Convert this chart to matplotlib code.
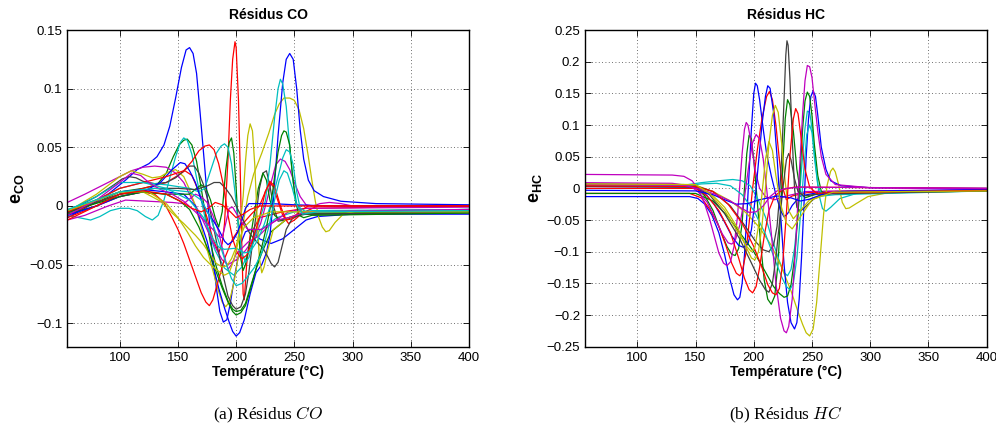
import matplotlib
matplotlib.use("Agg")
import matplotlib.pyplot as plt
from matplotlib.ticker import FuncFormatter

# ---------------- data: CO residuals (T in °C, e_CO) ----------------
co_blue1 = [(55,-0.010),(70,-0.002),(90,0.010),(105,0.022),(115,0.031),(125,0.036),(132,0.042),(138,0.052),(143,0.068),(148,0.092),(153,0.118),(157,0.133),(160,0.135),(163,0.130),(166,0.113),(169,0.080),(172,0.045),(175,0.010),(179,-0.035),(183,-0.070),(186,-0.090),(189,-0.099),(192,-0.097),(195,-0.083),(199,-0.058),(204,-0.032),(208,-0.022),(213,-0.020),(220,-0.028),(230,-0.032),(240,-0.028),(250,-0.020),(260,-0.012),(270,-0.009),(300,-0.007),(400,-0.007)]
co_blue2 = [(55,-0.005),(80,0.005),(100,0.012),(120,0.014),(140,0.012),(155,0.010),(165,0.000),(175,-0.030),(185,-0.070),(190,-0.087),(194,-0.099),(197,-0.107),(200,-0.111),(203,-0.108),(207,-0.097),(212,-0.075),(217,-0.057),(222,-0.050),(226,-0.040),(229,-0.025),(232,0.005),(236,0.060),(240,0.105),(243,0.125),(246,0.130),(249,0.125),(252,0.100),(255,0.065),(258,0.040),(262,0.022),(267,0.013),(275,0.008),(290,0.004),(320,0.002),(400,0.001)]
co_blue3 = [(55,-0.008),(80,0.000),(100,0.008),(120,0.012),(135,0.020),(145,0.031),(152,0.037),(156,0.036),(160,0.030),(165,0.020),(170,0.005),(175,-0.005),(180,-0.012),(185,-0.020),(190,-0.030),(193,-0.033),(197,-0.030),(201,-0.023),(205,-0.012),(208,-0.002),(211,0.002),(230,0.002),(250,0.001),(280,0.000),(400,0.000)]
co_red1 = [(55,-0.008),(80,0.003),(100,0.010),(120,0.015),(140,0.020),(150,0.026),(156,0.030),(162,0.026),(168,0.012),(175,-0.010),(180,-0.028),(185,-0.040),(188,-0.032),(190,-0.015),(193,0.040),(195,0.090),(197,0.125),(199,0.140),(200,0.135),(202,0.090),(203.5,0.030),(205,-0.040),(206,-0.075),(207,-0.080),(209,-0.050),(212,-0.025),(220,-0.010),(240,-0.005),(260,-0.002),(400,0.000)]
co_red2 = [(55,-0.010),(80,0.000),(100,0.008),(120,0.012),(130,0.010),(138,0.003),(145,-0.010),(150,-0.020),(155,-0.032),(160,-0.046),(165,-0.060),(170,-0.074),(174,-0.082),(177,-0.085),(180,-0.080),(184,-0.066),(190,-0.045),(197,-0.028),(205,-0.016),(213,-0.007),(220,0.000),(225,0.012),(229,0.020),(232,0.016),(236,0.004),(240,-0.008),(245,-0.015),(250,-0.012),(257,-0.006),(270,0.000),(400,0.000)]
co_red3 = [(55,-0.005),(80,0.005),(100,0.015),(120,0.020),(140,0.025),(155,0.030),(162,0.038),(168,0.047),(173,0.051),(177,0.052),(181,0.048),(185,0.036),(189,0.018),(193,-0.008),(197,-0.028),(201,-0.040),(205,-0.045),(209,-0.042),(214,-0.030),(220,-0.010),(225,0.012),(229,0.021),(233,0.017),(238,0.000),(243,-0.012),(248,-0.011),(255,-0.004),(262,0.000),(400,0.000)]
co_red4 = [(55,-0.012),(80,0.000),(100,0.010),(120,0.013),(140,0.010),(152,0.004),(162,-0.002),(170,-0.005),(176,-0.002),(182,0.003),(188,0.001),(195,-0.005),(200,-0.010),(206,-0.007),(212,-0.003),(220,0.000),(250,0.000),(400,0.000)]
co_cyan1 = [(55,-0.008),(65,-0.010),(75,-0.012),(83,-0.009),(92,-0.004),(100,-0.002),(108,-0.002),(115,-0.004),(122,-0.009),(128,-0.012),(133,-0.008),(138,0.005),(143,0.024),(148,0.042),(152,0.054),(155,0.058),(158,0.056),(162,0.044),(166,0.024),(170,0.005),(175,-0.018),(182,-0.038),(190,-0.053),(198,-0.059),(205,-0.052),(212,-0.037),(220,-0.021),(235,-0.010),(250,-0.005),(400,-0.003)]
co_cyan2 = [(55,-0.005),(80,0.005),(100,0.015),(120,0.020),(140,0.018),(160,0.015),(168,0.012),(173,0.015),(178,0.030),(183,0.045),(187,0.051),(190,0.053),(193,0.050),(196,0.036),(199,0.012),(202,-0.018),(205,-0.040),(208,-0.048),(211,-0.044),(215,-0.030),(220,-0.012),(225,0.004),(229,0.035),(233,0.075),(236,0.100),(238,0.108),(240,0.104),(243,0.085),(246,0.050),(249,0.020),(252,0.002),(256,-0.005),(265,-0.004),(400,-0.003)]
co_cyan3 = [(55,-0.004),(80,0.008),(100,0.020),(120,0.020),(140,0.015),(160,0.005),(172,-0.010),(180,-0.028),(185,-0.035),(190,-0.037),(200,-0.036),(207,-0.040),(212,-0.039),(218,-0.030),(224,-0.016),(230,0.002),(236,0.025),(240,0.041),(243,0.048),(246,0.046),(249,0.035),(252,0.012),(255,-0.002),(260,-0.005),(400,-0.003)]
co_cyan4 = [(55,-0.003),(100,0.012),(130,0.015),(160,0.012),(170,0.005),(178,-0.010),(185,-0.030),(191,-0.048),(196,-0.062),(200,-0.068),(205,-0.066),(210,-0.060),(216,-0.052),(222,-0.040),(228,-0.018),(233,0.005),(237,0.022),(241,0.030),(244,0.028),(248,0.016),(252,0.001),(257,-0.007),(270,-0.005),(400,-0.004)]
co_mag1 = [(55,0.003),(70,0.010),(90,0.020),(110,0.030),(120,0.033),(130,0.034),(140,0.033),(148,0.028),(155,0.020),(162,0.006),(168,-0.005),(175,-0.020),(182,-0.035),(188,-0.046),(193,-0.050),(200,-0.046),(208,-0.038),(215,-0.028),(221,-0.015),(226,0.003),(230,0.020),(234,0.035),(238,0.040),(242,0.038),(246,0.031),(250,0.020),(255,0.008),(260,0.001),(266,0.000),(272,0.002),(280,0.003),(290,0.002),(300,0.000),(400,0.000)]
co_mag2 = [(55,-0.012),(70,-0.008),(90,0.000),(105,0.005),(125,0.004),(145,0.003),(155,0.002),(160,0.006),(165,0.010),(170,0.008),(175,0.003),(180,-0.008),(185,-0.022),(189,-0.040),(193,-0.054),(196,-0.050),(200,-0.041),(210,-0.031),(220,-0.025),(230,-0.015),(245,-0.005),(260,-0.002),(400,-0.001)]
co_mag3 = [(55,-0.008),(80,0.005),(100,0.020),(110,0.028),(118,0.026),(125,0.020),(135,0.014),(145,0.010),(155,0.004),(165,-0.005),(173,-0.013),(180,-0.020),(185,-0.026),(188,-0.027),(191,-0.015),(194,-0.002),(197,-0.001),(200,-0.006),(205,-0.014),(210,-0.020),(222,-0.020),(235,-0.012),(245,-0.010),(260,-0.005),(400,-0.003)]
co_yel1 = [(55,-0.005),(80,0.010),(100,0.025),(110,0.030),(120,0.027),(128,0.024),(135,0.025),(142,0.029),(148,0.031),(155,0.025),(160,0.014),(165,0.000),(170,-0.018),(175,-0.037),(180,-0.055),(184,-0.070),(188,-0.082),(191,-0.086),(194,-0.082),(198,-0.066),(202,-0.042),(206,-0.015),(210,0.008),(215,0.027),(222,0.045),(228,0.062),(233,0.078),(237,0.087),(241,0.092),(246,0.092),(250,0.090),(254,0.082),(258,0.066),(262,0.042),(265,0.022),(268,0.004),(271,-0.010),(274,-0.018),(277,-0.022),(280,-0.021),(285,-0.014),(292,-0.007),(305,-0.004),(400,-0.003)]
co_yel2 = [(55,-0.006),(80,0.005),(100,0.012),(120,0.012),(135,0.004),(145,-0.006),(155,-0.015),(165,-0.025),(172,-0.033),(178,-0.042),(183,-0.049),(188,-0.052),(192,-0.051),(196,-0.045),(200,-0.035),(203,-0.020),(206,0.008),(208,0.038),(210,0.060),(212,0.070),(214,0.064),(216,0.035),(218,-0.010),(220,-0.045),(222,-0.057),(224,-0.052),(227,-0.038),(232,-0.020),(245,-0.010),(260,-0.005),(400,-0.004)]
co_yel3 = [(55,-0.004),(100,0.012),(125,0.012),(140,0.002),(150,-0.010),(158,-0.022),(165,-0.034),(172,-0.044),(178,-0.050),(184,-0.055),(190,-0.059),(194,-0.057),(198,-0.046),(202,-0.030),(207,-0.018),(215,-0.010),(230,-0.005),(400,-0.005)]
co_green1 = [(55,-0.006),(80,0.003),(100,0.012),(120,0.015),(132,0.018),(140,0.028),(146,0.042),(151,0.052),(155,0.056),(158,0.057),(162,0.052),(166,0.038),(170,0.015),(174,-0.010),(178,-0.032),(183,-0.052),(188,-0.068),(193,-0.081),(197,-0.088),(200,-0.090),(204,-0.089),(208,-0.083),(212,-0.070),(217,-0.054),(222,-0.040),(230,-0.022),(245,-0.010),(260,-0.006),(400,-0.005)]
co_green2 = [(55,-0.007),(80,0.000),(100,0.010),(120,0.012),(140,0.010),(160,0.010),(166,0.015),(170,0.018),(174,0.015),(178,0.005),(182,-0.010),(185,-0.018),(188,-0.005),(191,0.030),(194,0.054),(196,0.058),(198,0.045),(200,0.015),(202,-0.020),(204,-0.045),(206,-0.055),(208,-0.050),(211,-0.035),(215,-0.010),(219,0.015),(223,0.028),(226,0.022),(229,0.005),(233,-0.008),(238,-0.012),(245,-0.010),(255,-0.007),(400,-0.005)]
co_green3 = [(55,-0.005),(100,0.008),(120,0.012),(140,0.010),(152,0.004),(160,-0.003),(168,-0.018),(175,-0.035),(182,-0.054),(188,-0.070),(193,-0.082),(197,-0.090),(200,-0.093),(204,-0.091),(208,-0.085),(212,-0.072),(217,-0.054),(222,-0.035),(226,-0.018),(230,0.002),(233,0.025),(236,0.046),(239,0.060),(241,0.064),(243,0.063),(246,0.052),(248,0.030),(251,0.004),(254,-0.008),(258,-0.010),(265,-0.008),(400,-0.006)]
co_gray1 = [(55,-0.005),(80,0.008),(95,0.018),(102,0.023),(108,0.025),(114,0.024),(120,0.021),(130,0.019),(140,0.020),(148,0.024),(155,0.030),(160,0.034),(164,0.034),(168,0.028),(172,0.018),(176,0.004),(180,-0.015),(185,-0.040),(189,-0.060),(193,-0.077),(197,-0.085),(200,-0.088),(204,-0.086),(208,-0.075),(211,-0.056),(214,-0.032),(217,-0.008),(220,0.015),(223,0.028),(226,0.030),(229,0.017),(232,0.000),(236,-0.013),(242,-0.012),(250,-0.009),(260,-0.007),(400,-0.006)]
co_gray2 = [(55,-0.006),(100,0.010),(130,0.015),(150,0.015),(165,0.014),(175,0.017),(181,0.020),(186,0.020),(191,0.015),(196,0.008),(201,-0.002),(206,-0.012),(212,-0.024),(218,-0.031),(223,-0.036),(227,-0.043),(230,-0.049),(233,-0.052),(236,-0.048),(239,-0.036),(243,-0.020),(248,-0.011),(256,-0.007),(400,-0.005)]

# ---------------- data: HC residuals (T in °C, e_HC) ----------------
hc_blue1 = [(55,-0.013),(145,-0.013),(152,-0.016),(158,-0.025),(164,-0.042),(170,-0.070),(175,-0.105),(179,-0.140),(183,-0.168),(186,-0.176),(188,-0.172),(190,-0.150),(192,-0.105),(194,-0.045),(196,0.025),(198,0.095),(200,0.150),(201.5,0.166),(203,0.162),(205,0.140),(208,0.095),(211,0.055),(215,0.020),(219,-0.010),(223,-0.035),(226,-0.045),(229,-0.040),(233,-0.027),(240,-0.012),(260,-0.005),(400,-0.003)]
hc_blue2 = [(55,0.003),(150,0.002),(158,-0.008),(166,-0.025),(174,-0.050),(181,-0.075),(187,-0.090),(191,-0.093),(195,-0.088),(198,-0.065),(201,-0.020),(204,0.040),(207,0.100),(210,0.145),(212,0.162),(214,0.158),(217,0.120),(220,0.050),(223,-0.040),(226,-0.120),(229,-0.180),(232,-0.212),(235,-0.222),(237,-0.212),(239,-0.175),(241,-0.110),(243,-0.030),(245,0.050),(247,0.110),(249,0.145),(251,0.154),(253,0.145),(255,0.115),(258,0.065),(262,0.030),(266,0.012),(275,0.004),(300,0.001),(400,0.000)]
hc_blue3 = [(55,-0.003),(150,-0.004),(165,-0.010),(175,-0.018),(185,-0.025),(195,-0.024),(205,-0.018),(220,-0.012),(232,-0.015),(240,-0.020),(248,-0.017),(258,-0.010),(275,-0.005),(400,-0.002)]
hc_mag1 = [(55,0.022),(130,0.021),(140,0.019),(147,0.012),(152,0.000),(157,-0.020),(162,-0.048),(166,-0.075),(170,-0.102),(174,-0.118),(177,-0.122),(180,-0.116),(183,-0.092),(186,-0.045),(188,0.005),(190,0.055),(192,0.093),(193.5,0.104),(195,0.100),(198,0.070),(201,0.030),(205,0.000),(210,-0.013),(218,-0.018),(228,-0.012),(245,-0.005),(400,-0.002)]
hc_mag2 = [(55,0.009),(130,0.008),(145,0.004),(152,-0.005),(160,-0.022),(167,-0.048),(173,-0.072),(178,-0.086),(181,-0.088),(184,-0.083),(188,-0.058),(192,-0.015),(196,0.040),(199,0.072),(202,0.085),(205,0.078),(208,0.048),(211,0.000),(215,-0.070),(219,-0.150),(223,-0.205),(226,-0.225),(228,-0.228),(230,-0.218),(233,-0.175),(236,-0.090),(239,0.020),(242,0.120),(244,0.170),(246,0.194),(248,0.192),(250,0.175),(252,0.140),(255,0.090),(258,0.050),(262,0.022),(270,0.006),(300,0.001),(400,-0.001)]
hc_mag3 = [(55,0.006),(140,0.005),(155,-0.002),(168,-0.010),(180,-0.020),(190,-0.032),(196,-0.038),(202,-0.037),(208,-0.028),(214,-0.013),(220,-0.004),(228,0.000),(240,0.002),(400,0.000)]
hc_green1 = [(55,0.007),(140,0.006),(150,0.002),(158,-0.012),(165,-0.035),(171,-0.065),(177,-0.092),(181,-0.104),(184,-0.106),(187,-0.095),(190,-0.055),(192,0.000),(194,0.055),(196,0.084),(198,0.078),(200,0.045),(203,-0.020),(206,-0.090),(209,-0.145),(212,-0.175),(215,-0.183),(218,-0.170),(221,-0.115),(223,-0.040),(225,0.040),(227,0.110),(229,0.140),(231,0.132),(234,0.090),(237,0.030),(240,-0.005),(244,-0.015),(252,-0.010),(270,-0.005),(400,-0.003)]
hc_green2 = [(55,-0.008),(150,-0.008),(165,-0.020),(178,-0.045),(190,-0.075),(200,-0.100),(210,-0.132),(217,-0.155),(222,-0.166),(226,-0.172),(229,-0.170),(232,-0.152),(235,-0.110),(238,-0.040),(240,0.030),(242,0.095),(244,0.138),(246,0.152),(248,0.145),(250,0.115),(252,0.070),(255,0.020),(258,-0.005),(263,-0.009),(275,-0.006),(400,-0.004)]
hc_red1 = [(55,-0.008),(145,-0.008),(155,-0.015),(163,-0.035),(170,-0.060),(176,-0.090),(181,-0.118),(185,-0.134),(188,-0.138),(190,-0.132),(193,-0.105),(196,-0.055),(199,0.000),(203,0.060),(207,0.110),(211,0.145),(213.5,0.153),(216,0.140),(219,0.100),(222,0.045),(225,0.000),(228,-0.018),(233,-0.012),(245,-0.007),(260,-0.005),(400,-0.003)]
hc_red2 = [(55,0.000),(150,0.000),(160,-0.012),(170,-0.035),(180,-0.070),(187,-0.110),(192,-0.142),(196,-0.160),(199,-0.165),(202,-0.155),(205,-0.125),(209,-0.075),(213,-0.035),(218,-0.012),(225,-0.002),(235,0.002),(400,0.000)]
hc_red3 = [(55,0.004),(150,0.003),(165,-0.005),(178,-0.025),(190,-0.055),(200,-0.092),(207,-0.125),(212,-0.152),(216,-0.165),(219,-0.168),(222,-0.158),(225,-0.115),(228,-0.040),(231,0.050),(234,0.110),(236,0.126),(238,0.118),(241,0.075),(244,0.030),(248,0.002),(254,-0.008),(262,-0.007),(400,-0.003)]
hc_gray1 = [(55,0.005),(150,0.004),(165,-0.005),(180,-0.028),(192,-0.058),(202,-0.085),(208,-0.097),(213,-0.100),(217,-0.090),(220,-0.060),(222,-0.015),(224,0.050),(226,0.140),(227.5,0.210),(228.5,0.233),(229.5,0.226),(231,0.175),(233,0.080),(235,0.000),(237,-0.030),(240,-0.036),(245,-0.028),(252,-0.016),(262,-0.009),(280,-0.005),(400,-0.004)]
hc_gray2 = [(55,0.003),(150,0.002),(162,-0.010),(175,-0.040),(188,-0.080),(198,-0.118),(205,-0.145),(210,-0.160),(213,-0.164),(216,-0.150),(219,-0.110),(222,-0.055),(225,0.000),(228,0.045),(230,0.055),(232,0.045),(235,0.015),(238,-0.005),(243,-0.012),(255,-0.009),(400,-0.004)]
hc_yel1 = [(55,0.006),(150,0.005),(165,-0.005),(180,-0.020),(193,-0.038),(205,-0.062),(215,-0.090),(224,-0.125),(232,-0.162),(238,-0.195),(242,-0.215),(245,-0.228),(248,-0.233),(251,-0.222),(254,-0.180),(257,-0.110),(260,-0.040),(263,0.005),(266,0.027),(268,0.032),(270,0.026),(273,0.005),(276,-0.022),(279,-0.032),(282,-0.031),(288,-0.024),(298,-0.013),(315,-0.007),(400,-0.004)]
hc_yel2 = [(55,0.004),(150,0.003),(163,-0.008),(175,-0.030),(186,-0.062),(194,-0.095),(198,-0.110),(201,-0.113),(204,-0.100),(207,-0.060),(210,0.000),(213,0.070),(216,0.115),(218.5,0.131),(221,0.120),(224,0.070),(227,0.010),(230,-0.035),(234,-0.048),(240,-0.035),(248,-0.018),(262,-0.008),(400,-0.004)]
hc_yel3 = [(55,0.007),(150,0.006),(162,-0.008),(175,-0.035),(186,-0.068),(194,-0.092),(198,-0.100),(201,-0.093),(204,-0.060),(207,-0.010),(210,0.045),(213,0.074),(216,0.060),(219,0.020),(223,-0.025),(228,-0.055),(233,-0.064),(240,-0.045),(250,-0.018),(268,-0.006),(400,-0.004)]
hc_cyan1 = [(55,0.003),(140,0.005),(155,0.009),(170,0.012),(182,0.014),(190,0.012),(197,0.004),(203,-0.015),(210,-0.045),(216,-0.082),(222,-0.115),(226,-0.133),(229,-0.138),(232,-0.128),(235,-0.095),(238,-0.040),(241,0.030),(244,0.095),(246,0.122),(248,0.120),(250,0.095),(253,0.040),(256,-0.010),(259,-0.032),(262,-0.036),(266,-0.030),(274,-0.016),(290,-0.007),(400,-0.004)]
hc_cyan2 = [(55,0.004),(140,0.004),(155,0.007),(168,0.008),(180,0.004),(190,-0.010),(200,-0.035),(210,-0.072),(218,-0.112),(224,-0.140),(228,-0.155),(231,-0.160),(234,-0.150),(237,-0.110),(240,-0.045),(243,0.030),(245.5,0.085),(248,0.100),(250,0.088),(252,0.050),(255,0.005),(259,-0.012),(270,-0.010),(400,-0.004)]

# MATLAB default colour order
BLUE, GREEN, RED, CYAN, MAG, YEL, GRAY = "#0000ff", "#008000", "#ff0000", "#00bfbf", "#bf00bf", "#bfbf00", "#404040"

co_series = [(co_blue1, BLUE), (co_green1, GREEN), (co_red1, RED), (co_cyan1, CYAN), (co_mag1, MAG), (co_yel1, YEL), (co_gray1, GRAY),
             (co_blue2, BLUE), (co_green2, GREEN), (co_red2, RED), (co_cyan2, CYAN), (co_mag2, MAG), (co_yel2, YEL), (co_gray2, GRAY),
             (co_blue3, BLUE), (co_green3, GREEN), (co_red3, RED), (co_cyan3, CYAN), (co_mag3, MAG), (co_yel3, YEL),
             (co_red4, RED), (co_cyan4, CYAN)]
hc_series = [(hc_blue1, BLUE), (hc_green1, GREEN), (hc_red1, RED), (hc_cyan1, CYAN), (hc_mag1, MAG), (hc_yel1, YEL), (hc_gray1, GRAY),
             (hc_blue2, BLUE), (hc_green2, GREEN), (hc_red2, RED), (hc_cyan2, CYAN), (hc_mag2, MAG), (hc_yel2, YEL), (hc_gray2, GRAY),
             (hc_blue3, BLUE), (hc_red3, RED), (hc_mag3, MAG), (hc_yel3, YEL)]

x_ticks = [100, 150, 200, 250, 300, 350, 400]
co_yticks = [-0.1, -0.05, 0, 0.05, 0.1, 0.15]
hc_yticks = [-0.25, -0.2, -0.15, -0.1, -0.05, 0, 0.05, 0.1, 0.15, 0.2, 0.25]

plt.rcParams["font.family"] = ["Liberation Sans", "DejaVu Sans"]
plt.rcParams["mathtext.fontset"] = "custom"
plt.rcParams["mathtext.bf"] = "Liberation Sans:bold"
plt.rcParams["mathtext.it"] = "Liberation Sans:italic"
plt.rcParams["mathtext.rm"] = "Liberation Sans"

fig = plt.figure(figsize=(9.96, 4.24), dpi=100)
ax1 = fig.add_axes([0.0676, 0.1823, 0.4033, 0.7469])
ax2 = fig.add_axes([0.5873, 0.1823, 0.4033, 0.7469])

def fmt(v, pos):
    if abs(v) < 1e-12:
        return "0"
    s = ("%g" % v)
    return s.replace("-", "\u2212")

def setup(ax, series, ylim, yticks, title, ylab, caption):
    for pts, col in series:
        ax.plot([p[0] for p in pts], [p[1] for p in pts], color=col, lw=0.9,
                solid_joinstyle="round", solid_capstyle="round")
    ax.set_xlim(55, 400)
    ax.set_ylim(*ylim)
    ax.set_xticks(x_ticks)
    ax.set_yticks(yticks)
    ax.yaxis.set_major_formatter(FuncFormatter(fmt))
    ax.grid(True, linestyle=(0, (1, 3)), color="0.25", linewidth=0.6)
    ax.tick_params(direction="in", top=True, right=True, length=4, width=0.6, labelsize=9.5)
    for s in ax.spines.values():
        s.set_linewidth(1.0)
    ax.set_title(title, fontsize=10, fontweight="bold", pad=8)
    ax.set_xlabel("Température (°C)", fontsize=10, fontweight="bold", labelpad=1)
    ax.set_ylabel(ylab, fontsize=13, labelpad=2)
    ax.text(0.5, -0.215, caption, transform=ax.transAxes, ha="center", va="center",
            fontsize=12.5, family="Liberation Serif", math_fontfamily="cm")

setup(ax1, co_series, (-0.12, 0.15), co_yticks, "Résidus CO", r"$\mathbf{e}_{\mathbf{CO}}$", "(a) Résidus $CO$")
setup(ax2, hc_series, (-0.25, 0.25), hc_yticks, "Résidus HC", r"$\mathbf{e}_{\mathbf{HC}}$", "(b) Résidus $HC$")

fig.savefig("out.png", dpi=100)
